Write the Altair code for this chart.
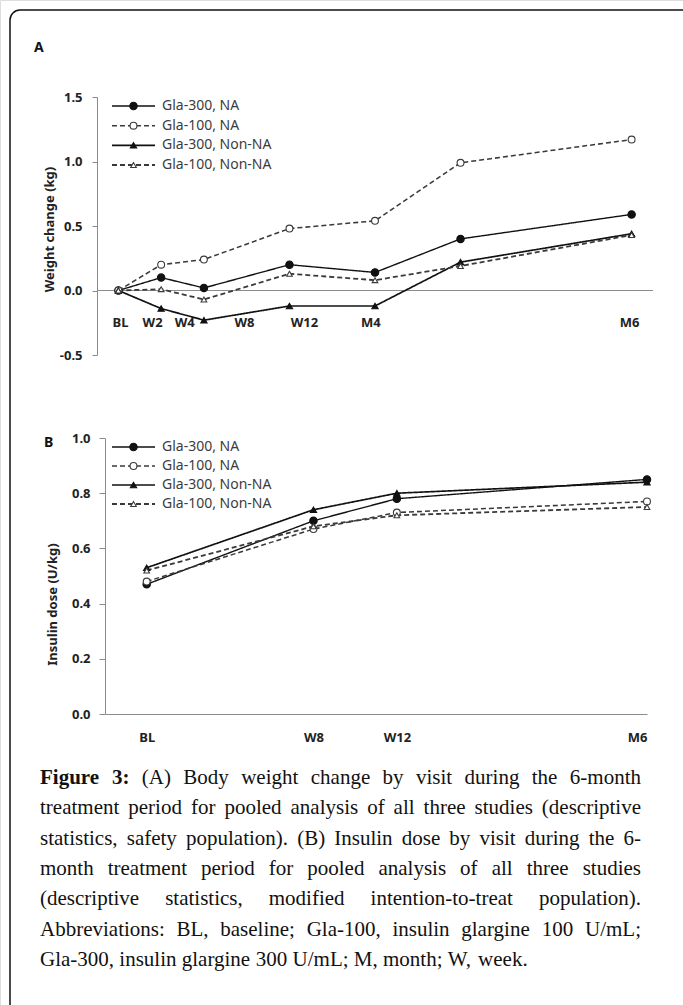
import altair as alt
import pandas as pd

# ---------------- data ----------------
series = ["Gla-300, NA", "Gla-100, NA", "Gla-300, Non-NA", "Gla-100, Non-NA"]

visits_a = ["BL", "W2", "W4", "W8", "W12", "M4", "M6"]
weeks_a = [0, 2, 4, 8, 12, 16, 24]
label_weeks_a = [0.1, 1.6, 3.1, 5.9, 8.7, 11.8, 23.9]
weight_gla300_na = [0.00, 0.10, 0.02, 0.20, 0.14, 0.40, 0.59]
weight_gla100_na = [0.00, 0.20, 0.24, 0.48, 0.54, 0.99, 1.17]
weight_gla300_nonna = [0.00, -0.14, -0.23, -0.12, -0.12, 0.22, 0.44]
weight_gla100_nonna = [0.00, 0.01, -0.07, 0.13, 0.08, 0.19, 0.43]

visits_b = ["BL", "W8", "W12", "M6"]
weeks_b = [0, 8, 12, 24]
dose_gla300_na = [0.47, 0.70, 0.78, 0.85]
dose_gla100_na = [0.48, 0.67, 0.73, 0.77]
dose_gla300_nonna = [0.53, 0.74, 0.80, 0.84]
dose_gla100_nonna = [0.52, 0.68, 0.72, 0.75]

ticks_a = [-0.5, 0.0, 0.5, 1.0, 1.5]
ticks_b = [0.0, 0.2, 0.4, 0.6, 0.8, 1.0]

caption_lines = [
    "Figure 3: (A) Body weight change by visit during the 6-month",
    "treatment period for pooled analysis of all three studies (descriptive",
    "statistics, safety population). (B) Insulin dose by visit during the 6-",
    "month treatment period for pooled analysis of all three studies",
    "(descriptive statistics, modified intention-to-treat population).",
    "Abbreviations: BL, baseline; Gla-100, insulin glargine 100 U/mL;",
    "Gla-300, insulin glargine 300 U/mL; M, month; W, week.",
]

# ---------------- styles ----------------
GRAY = "#8c8c8c"
dash_range = [[1, 0], [5, 3], [1, 0], [5, 3]]
shape_range = ["circle", "circle", "triangle-up", "triangle-up"]
fill_range = ["#111111", "#ffffff", "#111111", "#ffffff"]
size_range = [55, 32, 60, 45]
color_range = ["#111111", "#3a3a3a", "#111111", "#3a3a3a"]
width_range = [1.4, 1.8, 1.4, 1.8]

def sc(rng):
    return alt.Scale(domain=series, range=rng)

def long_df(weeks, visits, cols):
    rows = []
    for s, vals in zip(series, cols):
        for w, v, val in zip(weeks, visits, vals):
            rows.append({"series": s, "week": w, "visit": v, "value": val})
    return pd.DataFrame(rows)

df_a = long_df(weeks_a, visits_a, [weight_gla300_na, weight_gla100_na, weight_gla300_nonna, weight_gla100_nonna])
df_b = long_df(weeks_b, visits_b, [dose_gla300_na, dose_gla100_na, dose_gla300_nonna, dose_gla100_nonna])

xA = alt.Scale(domain=[-1, 25], range=[97, 653], nice=False, zero=False)
yA = alt.Scale(domain=[-0.5, 1.5], range=[355, 97], nice=False, zero=False)
xB = alt.Scale(domain=[-2, 24], range=[105, 647], nice=False, zero=False)
yB = alt.Scale(domain=[0, 1.0], range=[714, 438], nice=False, zero=False)

LBL = dict(labelFont="Noto Sans", labelFontWeight="bold", labelFontSize=13, labelColor="#222222")
TTL = dict(titleFont="Noto Sans", titleFontWeight="bold", titleFontSize=13, titleColor="#222222",
           titleAngle=270, titleBaseline="middle", titleAlign="center")
minus_fix = "replace(format(datum.value, '.1f'), '\u2212', '-')"

axis_yA = alt.Axis(orient="left", offset=-97, values=ticks_a, labelExpr=minus_fix, tickSize=5,
                   labelPadding=10, domainColor=GRAY, tickColor=GRAY, grid=False,
                   title="Weight change (kg)", titleX=-48, titleY=229, **LBL, **TTL)
axis_yB = alt.Axis(orient="left", offset=-105, values=ticks_b, labelExpr=minus_fix, tickSize=6,
                   labelPadding=9, domainColor=GRAY, tickColor=GRAY, grid=False,
                   title="Insulin dose (U/kg)", titleX=-53, titleY=604, **LBL, **TTL)
xb_expr = " : ".join(f"datum.value == {w} ? '{v}'" for w, v in zip(weeks_b, visits_b)) + " : ''"
axis_xB = alt.Axis(orient="bottom", offset=-291, values=weeks_b, labelExpr=xb_expr, ticks=False,
                   tickSize=0, labelPadding=17, domainColor=GRAY, grid=False, title=None, **LBL)

layers = []

# ---- Panel A ----
layers.append(
    alt.Chart(pd.DataFrame({"v": [0.0]})).mark_rule(color=GRAY, strokeWidth=1).encode(
        y=alt.Y("v:Q", scale=yA, axis=axis_yA), x=alt.value(97), x2=alt.value(653))
)

def lines_points(df, xs, ys, xaxis=None):
    ln = alt.Chart(df).mark_line().encode(
        x=alt.X("week:Q", scale=xs, axis=xaxis),
        y=alt.Y("value:Q", scale=ys, axis=None),
        detail="series:N",
        strokeDash=alt.StrokeDash("series:N", scale=sc(dash_range), legend=None),
        color=alt.Color("series:N", scale=sc(color_range), legend=None),
        strokeWidth=alt.StrokeWidth("series:N", scale=sc(width_range), legend=None),
    )
    pt = alt.Chart(df).mark_point(opacity=1, strokeWidth=1.1).encode(
        x=alt.X("week:Q", scale=xs, axis=None),
        y=alt.Y("value:Q", scale=ys, axis=None),
        shape=alt.Shape("series:N", scale=sc(shape_range), legend=None),
        fill=alt.Fill("series:N", scale=sc(fill_range), legend=None),
        stroke=alt.Stroke("series:N", scale=sc(color_range), legend=None),
        size=alt.Size("series:N", scale=sc(size_range), legend=None),
    )
    return [ln, pt]

layers += lines_points(df_a, xA, yA)

layers.append(
    alt.Chart(pd.DataFrame({"label": visits_a, "pos": label_weeks_a})).mark_text(
        font="Noto Sans", fontWeight="bold", fontSize=13, color="#222222", baseline="middle"
    ).encode(x=alt.X("pos:Q", scale=xA, axis=None), y=alt.value(323), text="label:N")
)

def legend(r0, r1):
    ldf = pd.DataFrame({"series": series})
    ysc = alt.Scale(type="point", domain=series, range=[r0, r1], padding=0)
    rl = alt.Chart(ldf).mark_rule().encode(
        x=alt.value(112), x2=alt.value(155),
        y=alt.Y("series:N", scale=ysc, axis=None),
        strokeDash=alt.StrokeDash("series:N", scale=sc(dash_range), legend=None),
        color=alt.Color("series:N", scale=sc(color_range), legend=None),
        strokeWidth=alt.StrokeWidth("series:N", scale=sc(width_range), legend=None),
    )
    pt = alt.Chart(ldf).mark_point(opacity=1, strokeWidth=1.1).encode(
        x=alt.value(133.5),
        y=alt.Y("series:N", scale=ysc, axis=None),
        shape=alt.Shape("series:N", scale=sc(shape_range), legend=None),
        fill=alt.Fill("series:N", scale=sc(fill_range), legend=None),
        stroke=alt.Stroke("series:N", scale=sc(color_range), legend=None),
        size=alt.Size("series:N", scale=sc(size_range), legend=None),
    )
    tx = alt.Chart(ldf).mark_text(font="Noto Sans", fontSize=14, color="#3c3c3c",
                                  align="left", baseline="middle").encode(
        x=alt.value(162), y=alt.Y("series:N", scale=ysc, axis=None), text="series:N")
    return [rl, pt, tx]

layers += legend(106, 165)

# ---- Panel B ----
layers.append(
    alt.Chart(pd.DataFrame({"v": [0.0]})).mark_rule(opacity=0).encode(
        y=alt.Y("v:Q", scale=yB, axis=axis_yB), x=alt.value(105), x2=alt.value(106))
)
layers += lines_points(df_b, xB, yB, xaxis=axis_xB)
layers += legend(447, 504)

# ---- panel letters ----
one = pd.DataFrame({"a": [0]})
for letter, px, py in [("A", 34, 48), ("B", 44, 443)]:
    layers.append(alt.Chart(one).mark_text(text=letter, font="Noto Sans", fontWeight="bold",
                                           fontSize=14, color="#111111", align="left",
                                           baseline="middle").encode(x=alt.value(px), y=alt.value(py)))

# ---- caption (justified using Times/Liberation Serif metrics) ----
reg_w = {" ": 250, "(": 333, ")": 333, ",": 250, "-": 333, ".": 250, "/": 278, ":": 278, ";": 278,
         "A": 722, "B": 667, "F": 556, "G": 722, "I": 333, "L": 611, "M": 889, "U": 722, "W": 944,
         "a": 444, "b": 500, "c": 444, "d": 500, "e": 444, "f": 333, "g": 500, "h": 500, "i": 278,
         "j": 278, "k": 500, "l": 278, "m": 778, "n": 500, "o": 500, "p": 500, "q": 500, "r": 333,
         "s": 389, "t": 278, "u": 500, "v": 500, "w": 722, "x": 500, "y": 500, "z": 444}
bold_w = {"F": 611, "i": 278, "g": 500, "u": 556, "r": 444, "e": 444, ":": 333}
FS = 21
LEFT, RIGHT = 40, 641

def wwidth(word, bold):
    tot = 0
    for ch in word:
        if ch.isdigit():
            tot += 500
        elif bold:
            tot += bold_w.get(ch, reg_w.get(ch, 500))
        else:
            tot += reg_w.get(ch, 500)
    return tot * FS / 1000.0

rows = []
for i, line in enumerate(caption_lines):
    words = line.split(" ")
    bolds = [(i == 0 and j < 2) for j in range(len(words))]
    widths = [wwidth(w, b) for w, b in zip(words, bolds)]
    if i < len(caption_lines) - 1:
        gap = (RIGHT - LEFT - sum(widths)) / (len(words) - 1)
    else:
        gap = 0.25 * FS
    x = LEFT
    for w, b, wd in zip(words, bolds, widths):
        rows.append({"word": w, "px": x, "py": 784 + 30.3 * i, "bold": b})
        x += wd + gap
cap = pd.DataFrame(rows)

for is_bold in (False, True):
    layers.append(
        alt.Chart(cap[cap["bold"] == is_bold]).mark_text(
            font="Liberation Serif", fontSize=FS, fontWeight="bold" if is_bold else "normal",
            color="#111111", align="left", baseline="alphabetic"
        ).encode(x=alt.X("px:Q", scale=None, axis=None), y=alt.Y("py:Q", scale=None, axis=None),
                 text="word:N")
    )

# ---- border ----
layers.append(
    alt.Chart(one).mark_rect(fill="white", fillOpacity=0, stroke="#111111", strokeWidth=1.5,
                             cornerRadius=10).encode(
        x=alt.value(10), x2=alt.value(720), y=alt.value(10), y2=alt.value(1040))
)

chart = alt.layer(*layers).resolve_scale(
    x="independent", y="independent", color="independent", strokeDash="independent",
    shape="independent", fill="independent", size="independent", stroke="independent",
    strokeWidth="independent"
).properties(
    width=683, height=1005, autosize=alt.AutoSizeParams(type="none"), padding=0
).configure_view(stroke=None).configure(background="white")

chart.save("out.html", embed_options={"renderer": "svg", "actions": False})
